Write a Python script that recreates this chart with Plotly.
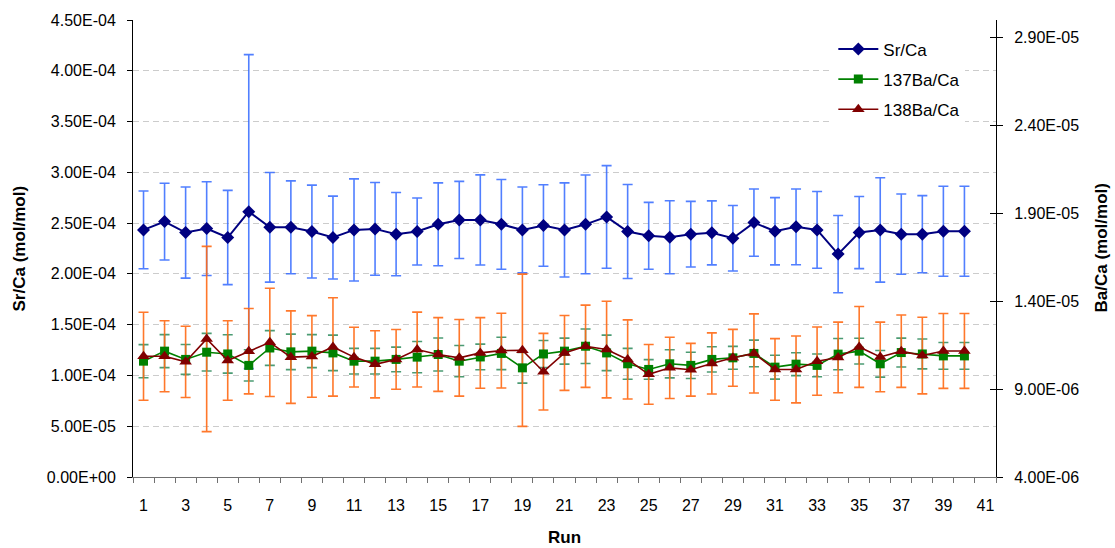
import plotly.graph_objects as go

# ---------------- data ----------------
runs = list(range(1, 41))

sr_ca = [2.433, 2.515, 2.407, 2.446, 2.358, 2.613, 2.459, 2.459, 2.417, 2.358,
         2.433, 2.443, 2.391, 2.417, 2.488, 2.531, 2.531, 2.488, 2.433, 2.476,
         2.433, 2.488, 2.561, 2.417, 2.375, 2.361, 2.391, 2.404, 2.351, 2.505,
         2.420, 2.463, 2.433, 2.195, 2.407, 2.433, 2.391, 2.391, 2.420, 2.420]
sr_ca_err = [0.383, 0.378, 0.449, 0.462, 0.464, 1.546, 0.540, 0.457, 0.457, 0.408,
             0.503, 0.457, 0.410, 0.330, 0.408, 0.380, 0.444, 0.442, 0.423, 0.401,
             0.463, 0.486, 0.505, 0.463, 0.329, 0.359, 0.323, 0.315, 0.323, 0.331,
             0.331, 0.373, 0.378, 0.380, 0.355, 0.514, 0.395, 0.380, 0.443, 0.443]
sr_scale = 1e-4

ba137_ca = [10.59, 11.16, 10.69, 11.10, 11.00, 10.35, 11.34, 11.12, 11.16, 11.06,
            10.59, 10.59, 10.69, 10.82, 10.97, 10.59, 10.83, 11.03, 10.21, 11.00,
            11.16, 11.44, 11.06, 10.44, 10.12, 10.44, 10.35, 10.69, 10.78, 11.03,
            10.25, 10.42, 10.35, 10.99, 11.16, 10.44, 11.08, 11.00, 10.89, 10.89]
ba137_err = [0.94, 0.94, 0.85, 1.07, 1.09, 0.89, 0.99, 1.01, 0.94, 1.01,
             0.73, 0.73, 0.70, 0.89, 0.94, 0.89, 0.73, 0.92, 0.87, 0.77,
             0.74, 0.98, 1.01, 0.88, 0.56, 0.80, 0.75, 0.72, 0.65, 0.76,
             0.68, 0.65, 0.65, 0.89, 0.73, 0.76, 0.82, 0.85, 0.76, 0.76]
ba138_ca = [10.87, 10.87, 10.55, 11.85, 10.63, 11.16, 11.66, 10.82, 10.86, 11.40,
            10.82, 10.41, 10.69, 11.25, 10.97, 10.78, 11.06, 11.19, 11.21, 9.99,
            11.06, 11.44, 11.25, 10.69, 9.84, 10.21, 10.10, 10.46, 10.78, 11.03,
            10.12, 10.12, 10.59, 10.80, 11.40, 10.83, 11.16, 10.91, 11.17, 11.17]
ba138_err = [2.50, 2.02, 2.03, 5.27, 2.26, 2.43, 3.08, 2.63, 2.32, 2.80,
             1.70, 1.91, 1.70, 2.13, 2.10, 2.18, 2.01, 2.13, 4.33, 2.18,
             2.13, 2.34, 2.75, 2.25, 1.70, 1.74, 1.50, 1.74, 1.62, 2.25,
             1.75, 1.90, 1.94, 2.01, 2.30, 1.98, 2.06, 2.18, 2.13, 2.13]
ba_scale = 1e-6

x_tick_labels = list(range(1, 42, 2))
left_ticks = [i * 0.5e-4 for i in range(10)]
right_ticks = [4e-6, 9e-6, 1.4e-5, 1.9e-5, 2.4e-5, 2.9e-5]

# ---------------- derived ----------------
sr = [v * sr_scale for v in sr_ca]
sr_e = [v * sr_scale for v in sr_ca_err]
b137 = [v * ba_scale for v in ba137_ca]
b137_e = [v * ba_scale for v in ba137_err]
b138 = [v * ba_scale for v in ba138_ca]
b138_e = [v * ba_scale for v in ba138_err]

FONT = "Liberation Sans, Arial, sans-serif"
BLUE_ERR = "rgba(50,105,255,0.85)"
GREEN_ERR = "rgba(30,130,80,0.8)"
ORANGE_ERR = "rgba(255,105,20,0.9)"

fig = go.Figure()

invisible = dict(size=1, color="rgba(0,0,0,0)")

# error bars first (under the markers)
fig.add_trace(go.Scatter(x=runs, y=sr, mode="markers", marker=invisible,
                         error_y=dict(type="data", array=sr_e, color=BLUE_ERR,
                                      thickness=1.6, width=5),
                         showlegend=False, hoverinfo="skip"))
fig.add_trace(go.Scatter(x=runs, y=b137, mode="markers", marker=invisible, yaxis="y2",
                         error_y=dict(type="data", array=b137_e, color=GREEN_ERR,
                                      thickness=1.6, width=5),
                         showlegend=False, hoverinfo="skip"))
fig.add_trace(go.Scatter(x=runs, y=b138, mode="markers", marker=invisible, yaxis="y2",
                         error_y=dict(type="data", array=b138_e, color=ORANGE_ERR,
                                      thickness=1.6, width=5),
                         showlegend=False, hoverinfo="skip"))

# series
fig.add_trace(go.Scatter(x=runs, y=sr, name="Sr/Ca", mode="lines+markers",
                         line=dict(color="#000080", width=2),
                         marker=dict(symbol="diamond", size=10, color="#000080"),
                         legendgroup="a"))
fig.add_trace(go.Scatter(x=runs, y=b137, name="137Ba/Ca", mode="lines+markers", yaxis="y2",
                         line=dict(color="#008000", width=1.6),
                         marker=dict(symbol="square", size=9, color="#008000"),
                         legendgroup="b"))
fig.add_trace(go.Scatter(x=runs, y=b138, name="138Ba/Ca", mode="lines+markers", yaxis="y2",
                         line=dict(color="#800000", width=1.6),
                         marker=dict(symbol="triangle-up", size=11, color="#800000"),
                         legendgroup="c"))

fig.update_layout(
    width=1115, height=548,
    margin=dict(l=133, r=119, t=17, b=71),
    paper_bgcolor="white", plot_bgcolor="white",
    font=dict(family=FONT, size=16, color="black"),
    showlegend=True,
    legend=dict(x=0.8115, y=0.975, xanchor="left", yanchor="top",
                bgcolor="white", borderwidth=0, font=dict(size=17),
                tracegroupgap=5, itemwidth=40),
    xaxis=dict(range=[0.5, 41.5], tickmode="array", tickvals=x_tick_labels,
               ticktext=[str(v) for v in x_tick_labels], ticks="",
               minor=dict(tick0=0.5, dtick=1, ticks="outside", ticklen=5,
                          tickcolor="#707070", showgrid=False),
               showline=True, linecolor="#707070", linewidth=1,
               showgrid=False, zeroline=False, ticklabelstandoff=14,
               tickfont=dict(size=16)),
    yaxis=dict(range=[0, 4.5e-4], tickmode="array", tickvals=left_ticks,
               ticktext=[f"{v:.2E}" for v in left_ticks],
               ticks="outside", ticklen=5, tickcolor="black",
               showline=True, linecolor="black", linewidth=1,
               showgrid=True, gridcolor="#cccccc", gridwidth=1, griddash="6px,4px",
               zeroline=False, ticklabelstandoff=8, tickfont=dict(size=16)),
    yaxis2=dict(range=[4e-6, 3.0e-5], overlaying="y", side="right",
                tickmode="array", tickvals=right_ticks,
                ticktext=[f"{v:.2E}" for v in right_ticks],
                ticks="outside", ticklen=6, tickcolor="black",
                showline=True, linecolor="black", linewidth=1,
                showgrid=False, zeroline=False, ticklabelstandoff=8,
                tickfont=dict(size=16)),
    yaxis3=dict(range=[4e-6, 3.0e-5], overlaying="y", side="right",
                tickmode="array", tickvals=right_ticks, showticklabels=False,
                ticks="inside", ticklen=6, tickcolor="black",
                showline=False, showgrid=False, zeroline=False),
    annotations=[
        dict(text="<b>Sr/Ca (mol/mol)</b>", textangle=-90, xref="paper", yref="paper",
             x=0, y=0.5, xanchor="center", yanchor="middle", xshift=-114,
             showarrow=False, font=dict(size=17)),
        dict(text="<b>Ba/Ca (mol/mol)</b>", textangle=-90, xref="paper", yref="paper",
             x=1, y=0.5, xanchor="center", yanchor="middle", xshift=105,
             showarrow=False, font=dict(size=17)),
        dict(text="<b>Run</b>", xref="paper", yref="paper",
             x=0.5, y=0, xanchor="center", yanchor="middle", yshift=-60,
             showarrow=False, font=dict(size=17)),
    ],
)

# dummy trace to activate yaxis3 for cross ticks
fig.add_trace(go.Scatter(x=[None], y=[None], yaxis="y3", showlegend=False, hoverinfo="skip"))

fig.write_html("out.html")
